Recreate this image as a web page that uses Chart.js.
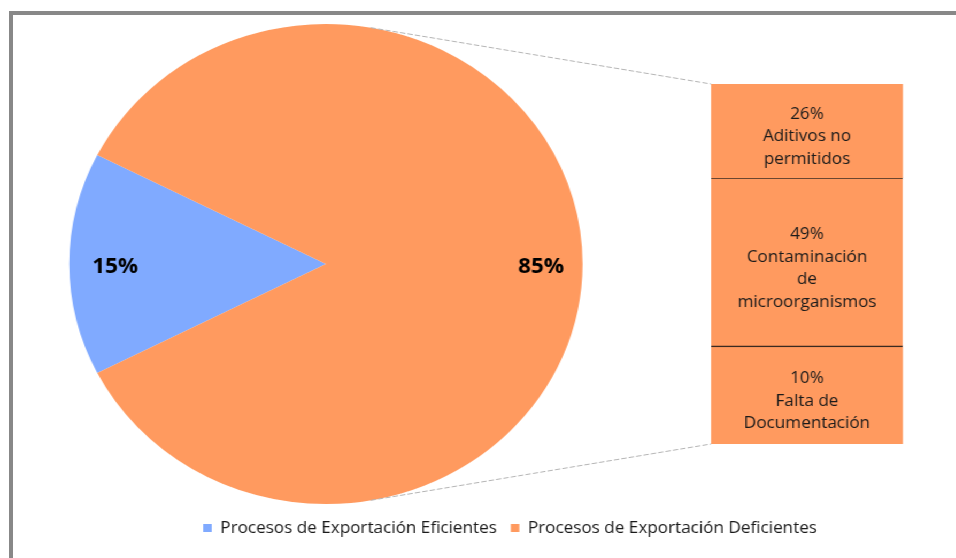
<!DOCTYPE html>
<html><head><meta charset="utf-8">
<script src="https://cdn.jsdelivr.net/npm/chart.js@4.4.1/dist/chart.umd.min.js"></script>
<style>
html,body{margin:0;padding:0;background:#fff;width:956px;height:558px;overflow:hidden}
#frame{position:absolute;left:9px;top:11px;width:1000px;height:600px;border:4px solid #888;box-sizing:border-box}
#stage{position:absolute;left:0;top:0;width:894px;height:558px;transform:scaleX(1.0694);transform-origin:0 0}
#stage canvas{position:absolute;left:0;top:0}
</style></head><body>
<div id="frame"></div>
<div id="stage"><canvas id="pie" width="894" height="558"></canvas><canvas id="bar" width="894" height="558"></canvas></div>
<script>
// ---- data ----
const pieCategories = ['Procesos de Exportación Eficientes', 'Procesos de Exportación Deficientes'];
const pieValues = [15, 85];
const barCategories = [['Aditivos no', 'permitidos'], ['Contaminación', 'de', 'microorganismos'], ['Falta de', 'Documentación']];
const barPercents = [26, 49, 10];
// share of the secondary bar occupied by each segment, as drawn in the picture
const barSegmentShares = [26, 47, 27];

// ---- style ----
const pieColors = ['#80AAFF', '#FF9A5F'];
const sepColor = '#3a2a20';
const FONT = "'Open Sans', 'Noto Sans', sans-serif";
const textColor = '#1a1a1a';

const pieAreaPlugin = {
  id: 'pieArea',
  afterLayout(chart) {
    const l = 64.8, t = 24, r = 544.8, b = 504;
    chart.chartArea = {left: l, top: t, right: r, bottom: b, width: r - l, height: b - t};
  }
};
const pieLabelPlugin = {
  id: 'pieLabels',
  afterDatasetsDraw(chart) {
    const ctx = chart.ctx;
    ctx.save();
    ctx.font = 'bold 21px ' + FONT;
    ctx.fillStyle = '#000';
    ctx.textAlign = 'center';
    ctx.textBaseline = 'middle';
    chart.getDatasetMeta(0).data.forEach((arc, i) => {
      const mid = (arc.startAngle + arc.endAngle) / 2;
      const rr = arc.outerRadius * 0.83;
      ctx.fillText(pieValues[i] + '%', arc.x + Math.cos(mid) * rr + 2, arc.y + Math.sin(mid) * rr + 3);
    });
    ctx.restore();
  }
};

const pieChart = new Chart(document.getElementById('pie'), {
  type: 'pie',
  data: {
    labels: pieCategories,
    datasets: [{data: pieValues, backgroundColor: pieColors, borderWidth: 0}]
  },
  options: {
    responsive: false, animation: false, devicePixelRatio: 1,
    rotation: 243,
    layout: {padding: {left: 60, right: 0, top: 24, bottom: 12}},
    plugins: {
      legend: {
        position: 'bottom',
        labels: {boxWidth: 8, boxHeight: 8, padding: 13, color: textColor, font: {family: FONT, size: 16}}
      },
      tooltip: {enabled: false}
    }
  },
  plugins: [pieAreaPlugin, pieLabelPlugin]
});

const barLabelPlugin = {
  id: 'barLabels',
  afterDatasetsDraw(chart) {
    const ctx = chart.ctx;
    ctx.save();
    ctx.font = '16px ' + FONT;
    ctx.fillStyle = textColor;
    ctx.textAlign = 'center';
    ctx.textBaseline = 'middle';
    chart.data.datasets.forEach((ds, i) => {
      const el = chart.getDatasetMeta(i).data[0];
      const cy = (el.y + el.base) / 2 + 6;
      const lines = [barPercents[i] + '%'].concat(barCategories[i]);
      const lh = 22.5;
      lines.forEach((t, k) => ctx.fillText(t, el.x, cy + (k - (lines.length - 1) / 2) * lh));
    });
    ctx.restore();
  }
};
function tangentPoint(cx, cy, r, px, py, sign) {
  const dx = px - cx, dy = py - cy;
  const d = Math.hypot(dx, dy);
  const phi = Math.atan2(dy, dx);
  const a = Math.acos(r / d);
  const ang = phi + sign * a;
  return {x: cx + r * Math.cos(ang), y: cy + r * Math.sin(ang)};
}
const connectorPlugin = {
  id: 'connectors',
  afterDraw(chart) {
    const arc = pieChart.getDatasetMeta(0).data[0];
    const n = chart.data.datasets.length;
    const topEl = chart.getDatasetMeta(0).data[0];
    const botEl = chart.getDatasetMeta(n - 1).data[0];
    const p1 = {x: topEl.x - topEl.width / 2, y: Math.min(topEl.y, topEl.base)};
    const p2 = {x: botEl.x - botEl.width / 2, y: Math.max(botEl.y, botEl.base)};
    const t1 = tangentPoint(arc.x, arc.y, arc.outerRadius, p1.x, p1.y, -1);
    const t2 = tangentPoint(arc.x, arc.y, arc.outerRadius, p2.x, p2.y, 1);
    const ctx = chart.ctx;
    ctx.save();
    ctx.strokeStyle = '#b4b4b4';
    ctx.lineWidth = 1;
    ctx.setLineDash([5, 2]);
    ctx.beginPath();
    ctx.moveTo(t1.x, t1.y); ctx.lineTo(p1.x, p1.y);
    ctx.moveTo(t2.x, t2.y); ctx.lineTo(p2.x, p2.y);
    ctx.stroke();
    ctx.restore();
  }
};

const barTotal = barSegmentShares.reduce((a, b) => a + b, 0);
new Chart(document.getElementById('bar'), {
  type: 'bar',
  data: {
    labels: ['Procesos de Exportación Deficientes'],
    datasets: barCategories.map((c, i) => ({
      label: c.join(' '),
      data: [barSegmentShares[i]],
      backgroundColor: pieColors[1],
      borderColor: sepColor,
      borderWidth: i === 1 ? {top: 1.5, bottom: 1.5, left: 0, right: 0} : 0,
      borderSkipped: false,
      barPercentage: 1,
      categoryPercentage: 1
    }))
  },
  options: {
    responsive: false, animation: false, devicePixelRatio: 1,
    layout: {padding: {left: 664.9, right: 49.6, top: 84, bottom: 114}},
    scales: {
      x: {display: false, stacked: true},
      y: {display: false, stacked: true, reverse: true, min: 0, max: barTotal}
    },
    plugins: {legend: {display: false}, tooltip: {enabled: false}}
  },
  plugins: [barLabelPlugin, connectorPlugin]
});
</script>
</body></html>
